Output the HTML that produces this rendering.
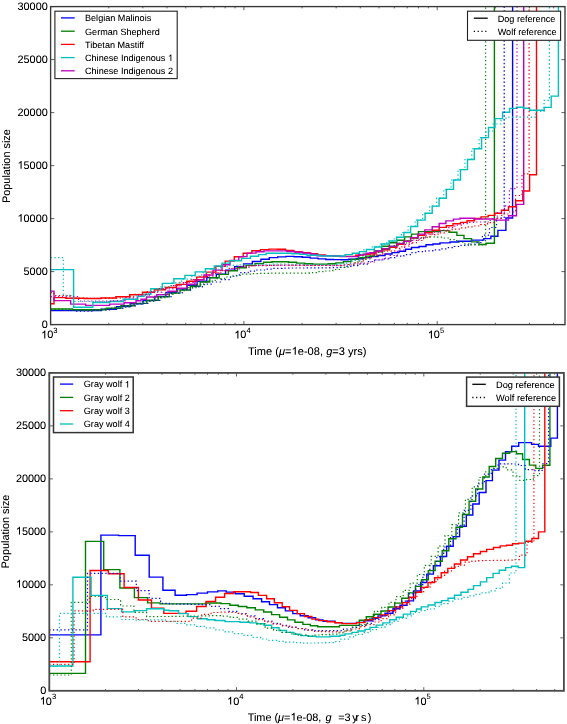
<!DOCTYPE html><html><head><meta charset='utf-8'><style>html,body{margin:0;padding:0;background:#fff;width:567px;height:724px;overflow:hidden}svg{display:block;filter:blur(0.35px)}text{font-family:'Liberation Sans',sans-serif;fill:#000;text-rendering:geometricPrecision}</style></head><body>
<svg width='567' height='724' viewBox='0 0 567 724'>
<clipPath id='ct'><rect x='50.6' y='6.6' width='514.4' height='318.0'/></clipPath>
<clipPath id='cb'><rect x='49.3' y='372.9' width='514.6' height='317.9'/></clipPath>
<g clip-path='url(#ct)' fill='none' stroke-width='1.3'><path d='M50.6,310.6L66.6,310.6L66.6,310.6L84.9,310.6L84.9,310.5L101.4,310.5L101.4,309.2L116.5,309.2L116.5,306.6L130.3,306.6L130.3,303.8L143.0,303.8L143.0,300.6L154.8,300.6L154.8,296.4L165.9,296.4L165.9,292.4L176.7,292.4L176.7,288.8L187.1,288.8L187.1,285.2L197.1,285.2L197.1,281.2L206.8,281.2L206.8,277.6L216.3,277.6L216.3,274.3L225.6,274.3L225.6,270.3L234.7,270.3L234.7,266.6L243.6,266.6L243.6,263.9L252.3,263.9L252.3,261.5L260.9,261.5L260.9,259.3L269.3,259.3L269.3,257.6L277.7,257.6L277.7,256.9L286.0,256.9L286.0,256.4L294.1,256.4L294.1,256.8L302.2,256.8L302.2,257.2L310.2,257.2L310.2,258.1L318.1,258.1L318.1,258.9L325.8,258.9L325.8,259.5L333.5,259.5L333.5,259.6L341.1,259.6L341.1,259.7L348.6,259.7L348.6,259.3L356.1,259.3L356.1,258.8L363.4,258.8L363.4,257.6L370.0,257.6L370.0,256.5L378.0,256.5L378.0,255.5L385.0,255.5L385.0,254.0L392.0,254.0L392.0,252.6L399.0,252.6L399.0,251.2L405.5,251.2L405.5,249.2L411.5,249.2L411.5,247.5L419.0,247.5L419.0,246.5L426.0,246.5L426.0,244.8L433.0,244.8L433.0,244.0L440.0,244.0L440.0,242.9L450.0,242.9L450.0,242.0L458.0,242.0L458.0,241.2L471.5,241.2L471.5,240.1L483.8,240.1L483.8,238.6L490.9,238.6L490.9,236.2L497.9,236.2L497.9,230.4L505.9,230.4L505.9,218.0L512.6,218.0L512.6,-5.0' stroke='#0000ff' stroke-width='1.4'/>
<path d='M50.6,309.0L72.5,309.0L72.5,309.8L90.3,309.8L90.3,309.8L106.3,309.8L106.3,308.3L120.9,308.3L120.9,305.7L134.3,305.7L134.3,303.4L146.8,303.4L146.8,300.2L158.3,300.2L158.3,296.7L169.3,296.7L169.3,293.1L180.0,293.1L180.0,290.0L190.3,290.0L190.3,286.3L200.2,286.3L200.2,282.0L209.8,282.0L209.8,277.8L219.2,277.8L219.2,274.4L228.4,274.4L228.4,270.7L237.4,270.7L237.4,267.7L246.3,267.7L246.3,265.4L255.0,265.4L255.0,263.6L263.5,263.6L263.5,262.3L271.9,262.3L271.9,261.7L280.3,261.7L280.3,261.7L288.5,261.7L288.5,262.2L296.7,262.2L296.7,263.1L304.7,263.1L304.7,263.7L312.6,263.7L312.6,264.1L320.5,264.1L320.5,264.1L328.2,264.1L328.2,263.8L335.9,263.8L335.9,262.9L343.5,262.9L343.5,261.6L351.0,261.6L351.0,259.4L358.3,259.4L358.3,257.8L365.7,257.8L365.7,256.1L374.2,256.1L374.2,250.9L381.6,250.9L381.6,246.3L389.4,246.3L389.4,242.8L396.8,242.8L396.8,240.3L404.6,240.3L404.6,236.9L411.5,236.9L411.5,234.1L418.5,234.1L418.5,231.6L440.0,231.6L440.0,230.6L449.0,230.6L449.0,232.3L456.9,232.3L456.9,235.4L464.0,235.4L464.0,238.6L471.6,238.6L471.6,241.9L479.0,241.9L479.0,244.5L486.0,244.5L486.0,243.2L494.4,243.2L494.4,-5.0' stroke='#008000' stroke-width='1.4'/>
<path d='M50.6,303.7L54.0,303.7L54.0,297.6L65.8,297.6L65.8,298.3L84.2,298.3L84.2,298.5L100.8,298.5L100.8,298.0L115.9,298.0L115.9,296.8L129.7,296.8L129.7,294.7L142.5,294.7L142.5,292.3L154.4,292.3L154.4,289.8L165.5,289.8L165.5,287.5L176.3,287.5L176.3,284.4L186.7,284.4L186.7,281.3L196.7,281.3L196.7,277.1L206.4,277.1L206.4,272.1L215.9,272.1L215.9,266.4L225.2,266.4L225.2,261.1L234.3,261.1L234.3,256.8L243.2,256.8L243.2,253.3L251.9,253.3L251.9,250.8L260.5,250.8L260.5,249.6L269.0,249.6L269.0,249.1L277.4,249.1L277.4,249.3L285.6,249.3L285.6,250.4L293.8,250.4L293.8,251.6L301.9,251.6L301.9,252.7L309.9,252.7L309.9,253.8L317.7,253.8L317.7,254.9L325.5,254.9L325.5,255.6L333.2,255.6L333.2,256.3L340.8,256.3L340.8,256.4L348.3,256.4L348.3,256.4L355.8,256.4L355.8,255.2L363.1,255.2L363.1,254.3L370.0,254.3L370.0,253.7L376.0,253.7L376.0,251.9L382.7,251.9L382.7,249.8L389.4,249.8L389.4,247.3L396.8,247.3L396.8,244.2L404.0,244.2L404.0,241.2L410.6,241.2L410.6,238.0L418.0,238.0L418.0,235.2L424.8,235.2L424.8,232.7L432.2,232.7L432.2,230.2L439.2,230.2L439.2,227.4L446.3,227.4L446.3,225.7L453.0,225.7L453.0,223.8L460.5,223.8L460.5,222.4L467.0,222.4L467.0,220.7L474.5,220.7L474.5,218.5L481.0,218.5L481.0,216.9L488.2,216.9L488.2,215.4L494.8,215.4L494.8,213.3L501.5,213.3L501.5,210.3L508.5,210.3L508.5,206.7L515.6,206.7L515.6,200.8L522.8,200.8L522.8,191.0L529.6,191.0L529.6,174.8L536.5,174.8L536.5,-5.0' stroke='#ff0000' stroke-width='1.4'/>
<path d='M50.6,291.1L54.0,291.1L54.0,300.6L70.7,300.6L70.7,304.1L85.7,304.1L85.7,305.4L109.6,305.4L109.6,304.1L124.1,304.1L124.1,302.8L136.0,302.8L136.0,300.8L141.0,300.8L141.0,299.2L146.5,299.2L146.5,297.0L156.8,297.0L156.8,294.6L167.9,294.6L167.9,291.3L177.6,291.3L177.6,288.2L187.0,288.2L187.0,284.3L195.0,284.3L195.0,279.8L204.0,279.8L204.0,275.0L213.0,275.0L213.0,270.1L222.0,270.1L222.0,264.8L230.0,264.8L230.0,260.4L238.8,260.4L238.8,256.6L247.0,256.6L247.0,253.1L256.0,253.1L256.0,251.8L264.0,251.8L264.0,250.9L287.0,250.9L287.0,251.5L295.0,251.5L295.0,252.3L303.0,252.3L303.0,253.2L311.0,253.2L311.0,254.3L317.0,254.3L317.0,255.7L340.0,255.7L340.0,256.6L358.5,256.6L358.5,254.8L366.0,254.8L366.0,253.2L370.0,253.2L370.0,252.7L376.0,252.7L376.0,251.0L382.7,251.0L382.7,248.8L389.4,248.8L389.4,246.3L396.8,246.3L396.8,243.5L404.0,243.5L404.0,241.2L410.6,241.2L410.6,237.6L418.0,237.6L418.0,234.1L424.8,234.1L424.8,229.9L432.2,229.9L432.2,226.7L439.2,226.7L439.2,223.5L445.9,223.5L445.9,220.9L453.4,220.9L453.4,219.1L460.0,219.1L460.0,218.3L474.0,218.3L474.0,219.0L494.4,219.0L494.4,220.1L508.5,220.1L508.5,215.7L516.5,215.7L516.5,204.4L523.7,204.4L523.7,-5.0' stroke='#bf00bf' stroke-width='1.4'/>
<path d='M50.6,269.6L73.6,269.6L73.6,307.2L92.8,307.2L92.8,302.5L109.6,302.5L109.6,301.5L123.2,301.5L123.2,299.3L137.8,299.3L137.8,296.4L144.0,296.4L144.0,294.2L150.8,294.2L150.8,288.7L162.3,288.7L162.3,283.4L173.9,283.4L173.9,278.7L184.9,278.7L184.9,275.4L195.2,275.4L195.2,271.9L205.4,271.9L205.4,268.8L214.3,268.8L214.3,266.0L222.0,266.0L222.0,263.1L229.5,263.1L229.5,260.8L241.5,260.8L241.5,258.4L250.3,258.4L250.3,256.2L258.5,256.2L258.5,254.6L266.0,254.6L266.0,253.3L292.0,253.3L292.0,253.8L300.0,253.8L300.0,254.4L307.0,254.4L307.0,255.3L320.0,255.3L320.0,256.0L345.1,256.0L345.1,254.6L352.3,254.6L352.3,253.3L359.4,253.3L359.4,251.6L366.4,251.6L366.4,249.5L374.4,249.5L374.4,247.0L381.6,247.0L381.6,244.0L389.3,244.0L389.3,241.0L396.7,241.0L396.7,237.3L403.9,237.3L403.9,232.5L410.6,232.5L410.6,226.5L417.6,226.5L417.6,220.1L425.1,220.1L425.1,213.3L432.2,213.3L432.2,206.1L439.1,206.1L439.1,198.2L446.3,198.2L446.3,189.4L453.5,189.4L453.5,180.0L460.5,180.0L460.5,169.6L467.5,169.6L467.5,159.5L474.3,159.5L474.3,148.7L481.6,148.7L481.6,137.6L488.5,137.6L488.5,127.5L495.0,127.5L495.0,118.6L502.6,118.6L502.6,112.2L509.6,112.2L509.6,108.4L516.5,108.4L516.5,107.2L523.4,107.2L523.4,108.2L529.6,108.2L529.6,110.2L544.2,110.2L544.2,107.4L551.2,107.4L551.2,96.1L558.4,96.1L558.4,-5.0' stroke='#00bfbf' stroke-width='1.4'/>
<path d='M50.6,310.4L76.5,310.4L76.5,311.1L93.9,311.1L93.9,310.0L109.5,310.0L109.5,308.3L123.9,308.3L123.9,305.9L137.1,305.9L137.1,303.3L149.4,303.3L149.4,300.3L160.7,300.3L160.7,296.6L171.7,296.6L171.7,293.0L182.2,293.0L182.2,289.8L192.4,289.8L192.4,286.8L202.3,286.8L202.3,284.2L211.8,284.2L211.8,282.0L221.2,282.0L221.2,279.6L230.4,279.6L230.4,276.0L239.4,276.0L239.4,272.7L248.2,272.7L248.2,271.2L256.8,271.2L256.8,270.0L265.3,270.0L265.3,269.1L273.8,269.1L273.8,268.3L282.1,268.3L282.1,268.1L290.3,268.1L290.3,268.0L298.4,268.0L298.4,268.0L306.4,268.0L306.4,267.9L314.3,267.9L314.3,267.9L322.2,267.9L322.2,267.8L329.9,267.8L329.9,267.7L337.5,267.7L337.5,267.3L345.1,267.3L345.1,266.4L352.6,266.4L352.6,265.7L359.9,265.7L359.9,264.1L367.3,264.1L367.3,261.5L374.7,261.5L374.7,260.0L382.0,260.0L382.0,258.8L389.3,258.8L389.3,257.7L396.6,257.7L396.6,256.2L403.8,256.2L403.8,254.6L411.1,254.6L411.1,252.6L418.3,252.6L418.3,251.7L425.5,251.7L425.5,250.8L432.7,250.8L432.7,249.8L439.8,249.8L439.8,248.8L446.9,248.8L446.9,247.7L454.1,247.7L454.1,246.5L461.1,246.5L461.1,245.3L468.2,245.3L468.2,244.1L475.3,244.1L475.3,242.6L482.4,242.6L482.4,235.2L489.5,235.2L489.5,227.5L496.5,227.5L496.5,218.1L504.2,218.1L504.2,-5.0' stroke='#0000ff' stroke-width='1.2' stroke-dasharray='1.3,2.45'/>
<path d='M50.6,309.4L64.6,309.4L64.6,310.0L83.1,310.0L83.1,310.4L99.8,310.4L99.8,308.8L115.0,308.8L115.0,307.1L128.9,307.1L128.9,304.2L141.7,304.2L141.7,301.5L153.6,301.5L153.6,297.9L164.8,297.9L164.8,294.3L175.6,294.3L175.6,290.7L186.0,290.7L186.0,287.7L196.1,287.7L196.1,284.6L205.9,284.6L205.9,281.1L215.3,281.1L215.3,278.6L224.6,278.6L224.6,277.0L233.7,277.0L233.7,275.4L242.7,275.4L242.7,274.2L251.4,274.2L251.4,273.6L260.0,273.6L260.0,273.4L268.5,273.4L268.5,273.2L276.9,273.2L276.9,273.1L285.1,273.1L285.1,273.1L293.3,273.1L293.3,273.1L301.4,273.1L301.4,273.1L309.4,273.1L309.4,272.7L317.3,272.7L317.3,271.7L325.1,271.7L325.1,271.0L332.8,271.0L332.8,269.5L340.4,269.5L340.4,267.4L347.9,267.4L347.9,264.9L355.3,264.9L355.3,261.9L362.7,261.9L362.7,259.0L370.0,259.0L370.0,255.8L377.4,255.8L377.4,252.5L384.7,252.5L384.7,248.8L392.0,248.8L392.0,245.7L399.3,245.7L399.3,243.0L406.5,243.0L406.5,240.5L413.8,240.5L413.8,238.5L421.0,238.5L421.0,237.3L428.2,237.3L428.2,236.9L435.3,236.9L435.3,237.2L442.5,237.2L442.5,238.0L449.6,238.0L449.6,239.6L456.7,239.6L456.7,242.1L463.8,242.1L463.8,243.8L470.9,243.8L470.9,244.9L478.0,244.9L478.0,245.0L485.6,245.0L485.6,-5.0' stroke='#008000' stroke-width='1.2' stroke-dasharray='1.3,2.45'/>
<path d='M50.6,292.5L54.0,292.5L54.0,295.5L71.6,295.5L71.6,298.0L89.5,298.0L89.5,298.3L105.5,298.3L105.5,298.2L120.2,298.2L120.2,296.8L133.7,296.8L133.7,294.3L146.2,294.3L146.2,291.5L157.8,291.5L157.8,288.5L168.8,288.5L168.8,285.6L179.5,285.6L179.5,282.6L189.8,282.6L189.8,279.6L199.7,279.6L199.7,276.5L209.3,276.5L209.3,273.4L218.8,273.4L218.8,270.7L228.0,270.7L228.0,268.4L237.0,268.4L237.0,266.4L245.9,266.4L245.9,265.8L254.6,265.8L254.6,265.4L263.1,265.4L263.1,265.3L271.5,265.3L271.5,265.1L279.9,265.1L279.9,265.0L288.1,265.0L288.1,265.1L296.3,265.1L296.3,265.2L304.3,265.2L304.3,265.3L312.3,265.3L312.3,265.4L320.1,265.4L320.1,265.4L327.9,265.4L327.9,265.4L335.5,265.4L335.5,265.4L343.1,265.4L343.1,264.5L350.6,264.5L350.6,263.0L358.0,263.0L358.0,260.8L365.4,260.8L365.4,257.6L372.7,257.6L372.7,255.2L380.1,255.2L380.1,253.9L387.4,253.9L387.4,251.1L394.7,251.1L394.7,248.3L401.9,248.3L401.9,246.0L409.2,246.0L409.2,242.7L416.4,242.7L416.4,240.5L423.6,240.5L423.6,236.9L430.8,236.9L430.8,234.6L437.9,234.6L437.9,232.9L445.1,232.9L445.1,231.2L452.2,231.2L452.2,229.2L459.3,229.2L459.3,227.9L466.4,227.9L466.4,226.9L473.5,226.9L473.5,226.0L480.5,226.0L480.5,224.7L487.6,224.7L487.6,222.7L494.7,222.7L494.7,218.3L501.7,218.3L501.7,214.0L508.8,214.0L508.8,212.0L515.6,212.0L515.6,195.5L522.0,195.5L522.0,173.9L529.1,173.9L529.1,-5.0' stroke='#ff0000' stroke-width='1.2' stroke-dasharray='1.3,2.45'/>
<path d='M50.6,257.6L63.4,257.6L63.4,295.3L73.4,295.3L73.4,301.5L92.8,301.5L92.8,301.7L108.6,301.7L108.6,301.1L123.0,301.1L123.0,299.1L136.3,299.1L136.3,296.0L148.6,296.0L148.6,291.3L160.0,291.3L160.0,286.8L171.0,286.8L171.0,282.8L181.6,282.8L181.6,279.2L191.8,279.2L191.8,276.0L201.7,276.0L201.7,272.7L211.2,272.7L211.2,269.4L220.6,269.4L220.6,266.7L229.8,266.7L229.8,265.3L238.8,265.3L238.8,264.8L247.6,264.8L247.6,264.5L256.3,264.5L256.3,264.4L264.8,264.4L264.8,264.3L273.2,264.3L273.2,264.2L281.5,264.2L281.5,264.2L289.8,264.2L289.8,264.3L297.9,264.3L297.9,264.4L305.9,264.4L305.9,264.4L313.8,264.4L313.8,264.5L321.7,264.5L321.7,264.4L329.4,264.4L329.4,264.3L337.1,264.3L337.1,264.2L344.6,264.2L344.6,263.1L352.1,263.1L352.1,260.4L359.5,260.4L359.5,256.8L364.0,256.8' stroke='#00bfbf' stroke-width='1.2' stroke-dasharray='1.3,2.45'/>
<path d='M361.0,255.0L363.9,255.0L363.9,249.5L371.9,249.5L371.9,247.0L379.1,247.0L379.1,244.0L386.8,244.0L386.8,241.0L394.2,241.0L394.2,237.3L401.4,237.3L401.4,232.5L408.1,232.5L408.1,226.5L415.1,226.5L415.1,220.1L422.6,220.1L422.6,213.3L429.7,213.3L429.7,206.1L436.6,206.1L436.6,198.2L443.8,198.2L443.8,189.4L451.0,189.4L451.0,180.0L458.0,180.0L458.0,169.6L465.0,169.6L465.0,159.5L471.8,159.5L471.8,148.7L479.1,148.7L479.1,137.6L486.0,137.6L486.0,131.0L493.0,131.0L493.0,124.0L501.0,124.0L501.0,120.0L506.0,120.0L506.0,117.2L535.7,117.2L535.7,111.5L544.0,111.5L544.0,100.3L549.4,100.3L549.4,-5.0' stroke='#00bfbf' stroke-width='1.2' stroke-dasharray='1.3,2.45'/>
<path d='M50.6,296.6L78.5,296.6L78.5,301.0L95.7,301.0L95.7,301.2L111.2,301.2L111.2,300.6L125.4,300.6L125.4,297.9L138.5,297.9L138.5,295.2L150.7,295.2L150.7,292.1L161.9,292.1L161.9,288.8L172.8,288.8L172.8,285.6L183.4,285.6L183.4,282.5L193.5,282.5L193.5,279.5L203.3,279.5L203.3,276.2L212.9,276.2L212.9,272.9L222.2,272.9L222.2,270.6L231.4,270.6L231.4,268.8L240.4,268.8L240.4,267.1L249.1,267.1L249.1,265.9L257.8,265.9L257.8,265.7L266.3,265.7L266.3,265.5L274.7,265.5L274.7,265.3L283.0,265.3L283.0,265.3L291.2,265.3L291.2,265.4L299.3,265.4L299.3,265.4L307.3,265.4L307.3,265.5L315.2,265.5L315.2,265.5L323.0,265.5L323.0,265.5L330.8,265.5L330.8,265.6L338.4,265.6L338.4,265.5L345.9,265.5L345.9,265.0L353.4,265.0L353.4,264.1L360.8,264.1L360.8,263.1L368.1,263.1L368.1,262.0L375.5,262.0L375.5,259.8L382.8,259.8L382.8,258.1L390.1,258.1L390.1,255.5L397.4,255.5L397.4,250.2L404.6,250.2L404.6,244.4L411.9,244.4L411.9,240.3L419.1,240.3L419.1,237.7L426.3,237.7L426.3,234.2L433.5,234.2L433.5,232.2L440.6,232.2L440.6,230.2L447.7,230.2L447.7,227.7L454.8,227.7L454.8,225.1L461.9,225.1L461.9,223.6L469.0,223.6L469.0,222.4L476.1,222.4L476.1,222.0L483.2,222.0L483.2,222.0L490.3,222.0L490.3,219.0L497.3,219.0L497.3,212.7L504.4,212.7L504.4,205.8L509.4,205.8L509.4,188.7L517.0,188.7L517.0,-5.0' stroke='#bf00bf' stroke-width='1.2' stroke-dasharray='1.3,2.45'/></g>
<g clip-path='url(#cb)' fill='none' stroke-width='1.3'><path d='M49.2,634.9L100.9,634.9L100.9,535.1L118.6,535.1L118.6,535.6L135.2,535.6L135.2,555.2L149.2,555.2L149.2,577.1L162.9,577.1L162.9,590.3L175.1,590.3L175.1,595.2L186.5,595.2L186.5,594.6L197.1,594.6L197.1,593.1L207.5,593.1L207.5,591.9L217.7,591.9L217.7,590.9L226.2,590.9L226.2,592.1L235.2,592.1L235.2,593.8L244.2,593.8L244.2,596.2L253.1,596.2L253.1,598.8L261.6,598.8L261.6,601.7L269.5,601.7L269.5,604.6L277.5,604.6L277.5,607.8L285.4,607.8L285.4,610.9L292.8,610.9L292.8,613.6L300.2,613.6L300.2,615.7L308.1,615.7L308.1,617.8L315.6,617.8L315.6,619.9L323.0,619.9L323.0,621.2L335.0,621.2L335.0,622.6L342.0,622.6L342.0,623.4L356.5,623.4L356.5,622.4L364.0,622.4L364.0,620.8L372.0,620.8L372.0,618.2L378.0,618.2L378.0,615.9L385.0,615.9L385.0,613.2L393.0,613.2L393.0,608.8L400.0,608.8L400.0,605.3L407.0,605.3L407.0,600.9L413.5,600.9L413.5,591.0L420.6,591.0L420.6,582.5L426.8,582.5L426.8,574.1L433.4,574.1L433.4,565.7L440.4,565.7L440.4,556.5L446.6,556.5L446.6,546.3L453.2,546.3L453.2,536.6L459.6,536.6L459.6,526.4L466.3,526.4L466.3,515.0L472.8,515.0L472.8,504.0L479.2,504.0L479.2,492.5L486.0,492.5L486.0,480.6L492.4,480.6L492.4,470.1L499.0,470.1L499.0,460.1L505.5,460.1L505.5,451.8L511.7,451.8L511.7,446.3L518.7,446.3L518.7,442.6L531.6,442.6L531.6,444.4L538.5,444.4L538.5,446.2L550.8,446.2L550.8,438.1L557.4,438.1L557.4,360.0' stroke='#0000ff' stroke-width='1.4'/>
<path d='M49.2,673.4L85.5,673.4L85.5,541.4L103.7,541.4L103.7,569.6L119.9,569.6L119.9,588.0L134.4,588.0L134.4,597.6L147.6,597.6L147.6,602.9L160.0,602.9L160.0,603.9L205.6,603.9L205.6,603.0L220.9,603.0L220.9,603.6L229.9,603.6L229.9,605.2L238.3,605.2L238.3,606.5L246.8,606.5L246.8,607.8L255.3,607.8L255.3,609.9L263.7,609.9L263.7,612.0L271.6,612.0L271.6,614.6L279.6,614.6L279.6,617.3L287.5,617.3L287.5,619.9L294.9,619.9L294.9,622.2L302.9,622.2L302.9,624.4L310.3,624.4L310.3,625.7L317.7,625.7L317.7,626.8L339.5,626.8L339.5,625.4L359.3,625.4L359.3,620.3L366.3,620.3L366.3,616.8L373.4,616.8L373.4,614.2L381.0,614.2L381.0,611.0L388.1,611.0L388.1,607.0L394.7,607.0L394.7,603.1L401.7,603.1L401.7,598.2L408.4,598.2L408.4,592.9L415.4,592.9L415.4,586.4L421.5,586.4L421.5,579.8L428.3,579.8L428.3,570.6L435.1,570.6L435.1,561.3L442.2,561.3L442.2,550.7L448.8,550.7L448.8,538.8L456.0,538.8L456.0,527.2L462.5,527.2L462.5,514.5L469.1,514.5L469.1,501.3L475.7,501.3L475.7,489.0L482.8,489.0L482.8,477.0L489.2,477.0L489.2,466.5L495.7,466.5L495.7,458.5L502.5,458.5L502.5,453.2L509.6,453.2L509.6,451.6L516.5,451.6L516.5,453.8L522.6,453.8L522.6,459.5L529.4,459.5L529.4,465.1L535.8,465.1L535.8,468.4L542.6,468.4L542.6,465.3L549.9,465.3L549.9,360.0' stroke='#008000' stroke-width='1.4'/>
<path d='M49.2,661.7L90.1,661.7L90.1,570.5L108.3,570.5L108.3,573.8L124.1,573.8L124.1,587.5L138.4,587.5L138.4,600.0L151.5,600.0L151.5,608.1L163.8,608.1L163.8,613.4L186.0,613.4L186.0,611.3L196.6,611.3L196.6,606.5L206.1,606.5L206.1,601.5L215.6,601.5L215.6,597.2L224.6,597.2L224.6,593.5L233.6,593.5L233.6,591.7L250.5,591.7L250.5,592.5L258.4,592.5L258.4,595.4L266.6,595.4L266.6,598.8L274.3,598.8L274.3,602.8L282.2,602.8L282.2,606.7L289.6,606.7L289.6,610.4L297.2,610.4L297.2,613.6L304.4,613.6L304.4,616.5L311.9,616.5L311.9,619.1L318.7,619.1L318.7,620.6L327.0,620.6L327.0,621.8L335.0,621.8L335.0,622.8L342.0,622.8L342.0,623.6L356.5,623.6L356.5,622.6L365.0,622.6L365.0,619.8L373.4,619.8L373.4,617.6L381.0,617.6L381.0,615.0L388.0,615.0L388.0,610.8L395.5,610.8L395.5,607.0L402.5,607.0L402.5,602.6L409.0,602.6L409.0,597.3L415.5,597.3L415.5,592.3L421.6,592.3L421.6,587.4L428.0,587.4L428.0,582.5L434.6,582.5L434.6,577.7L441.2,577.7L441.2,572.7L447.8,572.7L447.8,568.4L454.4,568.4L454.4,564.0L460.6,564.0L460.6,560.0L467.5,560.0L467.5,556.7L473.5,556.7L473.5,553.8L480.4,553.8L480.4,551.5L486.7,551.5L486.7,549.4L493.5,549.4L493.5,547.5L500.2,547.5L500.2,545.9L506.5,545.9L506.5,545.2L512.5,545.2L512.5,543.8L518.7,543.8L518.7,543.1L525.3,543.1L525.3,541.2L531.9,541.2L531.9,538.5L538.5,538.5L538.5,531.9L544.8,531.9L544.8,360.0' stroke='#ff0000' stroke-width='1.4'/>
<path d='M49.2,666.0L72.9,666.0L72.9,577.2L91.1,577.2L91.1,595.4L107.3,595.4L107.3,608.6L121.7,608.6L121.7,611.9L134.9,611.9L134.9,610.6L146.6,610.6L146.6,608.7L163.8,608.7L163.8,610.2L169.0,610.2L169.0,610.7L178.6,610.7L178.6,613.6L188.1,613.6L188.1,616.6L197.6,616.6L197.6,618.7L207.1,618.7L207.1,619.8L215.0,619.8L215.0,620.5L225.0,620.5L225.0,621.6L240.0,621.6L240.0,622.3L250.0,622.3L250.0,622.9L257.0,622.9L257.0,623.8L264.0,623.8L264.0,625.3L271.6,625.3L271.6,627.8L279.0,627.8L279.0,630.5L286.5,630.5L286.5,632.4L293.9,632.4L293.9,634.2L300.7,634.2L300.7,635.6L308.1,635.6L308.1,636.3L316.1,636.3L316.1,636.9L330.0,636.9L330.0,636.3L340.0,636.3L340.0,635.3L345.0,635.3L345.0,633.9L352.0,633.9L352.0,632.4L358.0,632.4L358.0,631.0L365.0,631.0L365.0,629.4L370.0,629.4L370.0,627.4L376.2,627.4L376.2,625.1L382.8,625.1L382.8,622.9L389.8,622.9L389.8,619.8L396.2,619.8L396.2,617.2L403.3,617.2L403.3,614.1L410.7,614.1L410.7,611.4L416.5,611.4L416.5,609.0L421.3,609.0L421.3,606.9L428.1,606.9L428.1,605.0L435.0,605.0L435.0,602.5L441.5,602.5L441.5,600.6L448.0,600.6L448.0,598.2L454.5,598.2L454.5,595.3L461.0,595.3L461.0,592.3L468.0,592.3L468.0,589.4L473.5,589.4L473.5,585.6L480.4,585.6L480.4,581.9L486.7,581.9L486.7,577.6L493.1,577.6L493.1,573.4L499.2,573.4L499.2,570.2L505.6,570.2L505.6,567.6L511.5,567.6L511.5,566.3L518.2,566.3L518.2,567.6L524.7,567.6L524.7,360.0' stroke='#00bfbf' stroke-width='1.4'/>
<path d='M49.2,629.8L65.2,629.8L65.2,629.8L83.7,629.8L83.7,629.8L87.5,629.8L87.5,573.4L100.5,573.4L100.5,573.4L115.6,573.4L115.6,573.4L120.2,573.4L120.2,581.1L131.0,581.1L131.0,581.1L136.3,581.1L136.3,590.7L146.1,590.7L146.1,590.7L149.2,590.7L149.2,598.4L158.3,598.4L158.3,598.4L160.6,598.4L160.6,603.3L169.4,603.3L169.4,604.0L180.0,604.0L180.0,604.2L190.3,604.2L190.3,604.4L200.2,604.4L200.2,604.6L209.8,604.6L209.8,606.4L219.2,606.4L219.2,608.7L228.4,608.7L228.4,611.4L237.5,611.4L237.5,613.5L246.3,613.5L246.3,615.8L255.0,615.8L255.0,618.7L263.5,618.7L263.5,621.0L272.0,621.0L272.0,623.3L280.3,623.3L280.3,625.4L288.5,625.4L288.5,627.2L296.7,627.2L296.7,628.5L304.7,628.5L304.7,629.8L312.6,629.8L312.6,630.5L320.5,630.5L320.5,630.7L328.3,630.7L328.3,630.7L335.9,630.7L335.9,630.7L343.5,630.7L343.5,629.0L351.0,629.0L351.0,627.3L358.4,627.3L358.4,625.5L365.7,625.5L365.7,623.3L373.0,623.3L373.0,619.7L380.3,619.7L380.3,615.7L387.5,615.7L387.5,611.4L394.7,611.4L394.7,607.1L401.8,607.1L401.8,601.2L408.9,601.2L408.9,593.9L415.9,593.9L415.9,584.7L422.9,584.7L422.9,575.0L429.9,575.0L429.9,565.6L436.8,565.6L436.8,556.6L443.7,556.6L443.7,547.0L450.5,547.0L450.5,536.7L457.3,536.7L457.3,525.4L464.1,525.4L464.1,510.4L470.9,510.4L470.9,495.8L477.7,495.8L477.7,483.2L484.5,483.2L484.5,474.1L491.3,474.1L491.3,468.8L498.1,468.8L498.1,463.9L504.9,463.9L504.9,463.8L511.7,463.8L511.7,464.0L518.5,464.0L518.5,465.5L525.3,465.5L525.3,469.7L532.1,469.7L532.1,470.6L538.9,470.6L538.9,470.3L543.0,470.3L543.0,463.5L548.5,463.5L548.5,360.0' stroke='#0000ff' stroke-width='1.2' stroke-dasharray='1.3,2.45'/>
<path d='M49.2,675.0L71.3,675.0L71.3,602.4L89.3,602.4L89.3,596.5L105.5,596.5L105.5,599.5L120.6,599.5L120.6,606.0L133.9,606.0L133.9,612.4L146.6,612.4L146.6,616.6L160.5,616.6L160.5,616.5L171.4,616.5L171.4,616.3L182.0,616.3L182.0,616.2L192.2,616.2L192.2,616.0L202.1,616.0L202.1,615.8L211.6,615.8L211.6,615.6L221.0,615.6L221.0,616.2L230.2,616.2L230.2,617.4L239.2,617.4L239.2,619.2L248.0,619.2L248.0,621.2L256.6,621.2L256.6,623.8L265.1,623.8L265.1,628.2L273.6,628.2L273.6,630.4L281.9,630.4L281.9,632.3L290.1,632.3L290.1,633.9L298.2,633.9L298.2,635.2L306.2,635.2L306.2,636.0L314.2,636.0L314.2,635.0L322.0,635.0L322.0,634.7L329.7,634.7L329.7,634.1L337.4,634.1L337.4,632.8L344.9,632.8L344.9,630.1L352.4,630.1L352.4,627.0L359.8,627.0L359.8,624.7L367.1,624.7L367.1,618.6L374.4,618.6L374.4,611.3L381.7,611.3L381.7,607.3L388.9,607.3L388.9,602.3L396.0,602.3L396.0,596.6L403.2,596.6L403.2,590.3L410.2,590.3L410.2,583.2L417.3,583.2L417.3,574.5L424.3,574.5L424.3,565.4L431.2,565.4L431.2,556.4L438.1,556.4L438.1,546.1L445.0,546.1L445.0,535.6L451.8,535.6L451.8,524.7L458.6,524.7L458.6,512.9L465.4,512.9L465.4,499.3L472.2,499.3L472.2,486.8L479.0,486.8L479.0,477.5L485.8,477.5L485.8,471.9L492.6,471.9L492.6,468.4L499.4,468.4L499.4,466.9L506.2,466.9L506.2,469.9L513.0,469.9L513.0,475.9L519.8,475.9L519.8,480.3L526.6,480.3L526.6,479.5L533.4,479.5L533.4,475.6L539.5,475.6L539.5,360.0' stroke='#008000' stroke-width='1.2' stroke-dasharray='1.3,2.45'/>
<path d='M49.2,664.4L69.2,664.4L69.2,664.4L74.1,664.4L74.1,610.8L93.2,610.8L93.2,609.3L108.9,609.3L108.9,609.3L122.8,609.3L122.8,616.9L136.1,616.9L136.1,619.5L148.4,619.5L148.4,621.3L159.8,621.3L159.8,621.3L170.8,621.3L170.8,621.3L181.4,621.3L181.4,621.3L191.6,621.3L191.6,618.2L201.5,618.2L201.5,614.4L211.1,614.4L211.1,612.5L220.5,612.5L220.5,612.2L229.6,612.2L229.6,612.5L238.7,612.5L238.7,614.1L247.5,614.1L247.5,616.9L256.1,616.9L256.1,619.6L264.7,619.6L264.7,621.9L273.1,621.9L273.1,624.1L281.4,624.1L281.4,625.9L289.6,625.9L289.6,627.4L297.8,627.4L297.8,628.7L305.8,628.7L305.8,630.3L313.7,630.3L313.7,631.3L321.5,631.3L321.5,631.7L329.3,631.7L329.3,631.9L336.9,631.9L336.9,632.0L344.5,632.0L344.5,630.8L352.0,630.8L352.0,629.0L359.3,629.0L359.3,626.6L366.7,626.6L366.7,624.6L374.0,624.6L374.0,622.0L381.2,622.0L381.2,618.7L388.5,618.7L388.5,614.8L395.6,614.8L395.6,609.2L402.8,609.2L402.8,604.4L409.8,604.4L409.8,598.6L416.9,598.6L416.9,591.7L423.9,591.7L423.9,586.9L430.8,586.9L430.8,581.6L437.7,581.6L437.7,576.1L444.6,576.1L444.6,571.0L451.5,571.0L451.5,567.1L458.3,567.1L458.3,565.1L465.1,565.1L465.1,562.2L471.9,562.2L471.9,561.2L478.7,561.2L478.7,560.7L485.5,560.7L485.5,560.5L492.3,560.5L492.3,560.4L499.1,560.4L499.1,560.3L505.9,560.3L505.9,560.2L512.7,560.2L512.7,559.6L519.5,559.6L519.5,555.1L527.0,555.1L527.0,542.5L533.9,542.5L533.9,360.0' stroke='#ff0000' stroke-width='1.2' stroke-dasharray='1.3,2.45'/>
<path d='M49.2,666.5L59.5,666.5L59.5,613.4L70.9,613.4L70.9,613.4L88.8,613.4L88.8,613.4L106.4,613.4L106.4,616.8L115.2,616.8L115.2,616.8L121.2,616.8L121.2,619.5L129.2,619.5L129.2,619.5L135.0,619.5L135.0,620.2L142.4,620.2L142.4,619.8L154.3,619.8L154.3,619.9L165.4,619.9L165.4,621.4L176.2,621.4L176.2,623.4L186.6,623.4L186.6,624.9L196.7,624.9L196.7,626.3L206.4,626.3L206.4,627.9L215.9,627.9L215.9,630.0L225.2,630.0L225.2,631.8L234.3,631.8L234.3,633.6L243.2,633.6L243.2,635.4L251.9,635.4L251.9,637.3L260.5,637.3L260.5,639.0L269.0,639.0L269.0,640.4L277.3,640.4L277.3,641.3L285.6,641.3L285.6,642.1L293.8,642.1L293.8,642.7L301.8,642.7L301.8,643.2L309.8,643.2L309.8,643.0L317.7,643.0L317.7,642.9L325.5,642.9L325.5,642.7L333.2,642.7L333.2,641.6L340.8,641.6L340.8,639.2L348.3,639.2L348.3,636.9L355.7,636.9L355.7,634.4L363.1,634.4L363.1,632.6L370.4,632.6L370.4,629.7L377.7,629.7L377.7,627.4L384.9,627.4L384.9,624.7L392.1,624.7L392.1,621.3L399.3,621.3L399.3,618.2L406.4,618.2L406.4,615.9L413.4,615.9L413.4,612.5L420.4,612.5L420.4,610.7L427.4,610.7L427.4,609.0L434.4,609.0L434.4,606.3L441.2,606.3L441.2,603.6L448.1,603.6L448.1,601.1L454.9,601.1L454.9,599.1L461.7,599.1L461.7,597.4L468.5,597.4L468.5,595.8L475.3,595.8L475.3,594.3L482.1,594.3L482.1,592.8L488.9,592.8L488.9,590.8L495.7,590.8L495.7,588.4L502.5,588.4L502.5,583.0L509.3,583.0L509.3,573.0L516.0,573.0L516.0,360.0' stroke='#00bfbf' stroke-width='1.2' stroke-dasharray='1.3,2.45'/></g>
<path d='M50.60,324.60v-3.6M50.60,6.60v3.6M108.79,324.60v-1.8M108.79,6.60v1.8M142.83,324.60v-1.8M142.83,6.60v1.8M166.98,324.60v-1.8M166.98,6.60v1.8M185.71,324.60v-1.8M185.71,6.60v1.8M201.02,324.60v-1.8M201.02,6.60v1.8M213.96,324.60v-1.8M213.96,6.60v1.8M225.17,324.60v-1.8M225.17,6.60v1.8M235.06,324.60v-1.8M235.06,6.60v1.8M243.90,324.60v-3.6M243.90,6.60v3.6M302.09,324.60v-1.8M302.09,6.60v1.8M336.13,324.60v-1.8M336.13,6.60v1.8M360.28,324.60v-1.8M360.28,6.60v1.8M379.01,324.60v-1.8M379.01,6.60v1.8M394.32,324.60v-1.8M394.32,6.60v1.8M407.26,324.60v-1.8M407.26,6.60v1.8M418.47,324.60v-1.8M418.47,6.60v1.8M428.36,324.60v-1.8M428.36,6.60v1.8M437.20,324.60v-3.6M437.20,6.60v3.6M495.39,324.60v-1.8M495.39,6.60v1.8M529.43,324.60v-1.8M529.43,6.60v1.8M553.58,324.60v-1.8M553.58,6.60v1.8M50.60,324.60h3.6M565.00,324.60h-3.6M50.60,271.60h3.6M565.00,271.60h-3.6M50.60,218.60h3.6M565.00,218.60h-3.6M50.60,165.60h3.6M565.00,165.60h-3.6M50.60,112.60h3.6M565.00,112.60h-3.6M50.60,59.60h3.6M565.00,59.60h-3.6M50.60,6.60h3.6M565.00,6.60h-3.6' stroke='#444' stroke-width='0.85' fill='none'/>












<rect x='50.6' y='6.6' width='514.4' height='318.0' fill='none' stroke='#383838' stroke-width='1.35'/>
<path d='M49.20,690.80v-3.6M49.20,372.90v3.6M105.58,690.80v-1.8M105.58,372.90v1.8M138.56,690.80v-1.8M138.56,372.90v1.8M161.97,690.80v-1.8M161.97,372.90v1.8M180.12,690.80v-1.8M180.12,372.90v1.8M194.95,690.80v-1.8M194.95,372.90v1.8M207.49,690.80v-1.8M207.49,372.90v1.8M218.35,690.80v-1.8M218.35,372.90v1.8M227.93,690.80v-1.8M227.93,372.90v1.8M236.50,690.80v-3.6M236.50,372.90v3.6M292.88,690.80v-1.8M292.88,372.90v1.8M325.86,690.80v-1.8M325.86,372.90v1.8M349.27,690.80v-1.8M349.27,372.90v1.8M367.42,690.80v-1.8M367.42,372.90v1.8M382.25,690.80v-1.8M382.25,372.90v1.8M394.79,690.80v-1.8M394.79,372.90v1.8M405.65,690.80v-1.8M405.65,372.90v1.8M415.23,690.80v-1.8M415.23,372.90v1.8M423.80,690.80v-3.6M423.80,372.90v3.6M480.18,690.80v-1.8M480.18,372.90v1.8M513.16,690.80v-1.8M513.16,372.90v1.8M536.57,690.80v-1.8M536.57,372.90v1.8M554.72,690.80v-1.8M554.72,372.90v1.8M49.30,690.80h3.6M563.90,690.80h-3.6M49.30,637.82h3.6M563.90,637.82h-3.6M49.30,584.83h3.6M563.90,584.83h-3.6M49.30,531.85h3.6M563.90,531.85h-3.6M49.30,478.87h3.6M563.90,478.87h-3.6M49.30,425.88h3.6M563.90,425.88h-3.6M49.30,372.90h3.6M563.90,372.90h-3.6' stroke='#444' stroke-width='0.85' fill='none'/>












<rect x='49.3' y='372.9' width='514.6' height='317.9' fill='none' stroke='#4a4a4a' stroke-width='1.8'/>
<rect x='54.9' y='11.2' width='122.3' height='67.4' fill='#fff' stroke='#222' stroke-width='1.1'/>
<line x1='61' x2='74.7' y1='17.9' y2='17.9' stroke='#0000ff' stroke-width='1.3'/>

<line x1='61' x2='74.7' y1='31.2' y2='31.2' stroke='#008000' stroke-width='1.3'/>

<line x1='61' x2='74.7' y1='44.4' y2='44.4' stroke='#ff0000' stroke-width='1.3'/>

<line x1='61' x2='74.7' y1='57.6' y2='57.6' stroke='#00bfbf' stroke-width='1.3'/>

<line x1='61' x2='74.7' y1='70.8' y2='70.8' stroke='#bf00bf' stroke-width='1.3'/>

<rect x='467.5' y='11.2' width='93.1' height='29.1' fill='#fff' stroke='#222' stroke-width='1.1'/>
<line x1='473.8' x2='487.7' y1='18.2' y2='18.2' stroke='#000' stroke-width='1.3'/>

<line x1='473.8' x2='487.7' y1='31.4' y2='31.4' stroke='#000' stroke-width='1.3' stroke-dasharray='1.2,2.6'/>

<rect x='53.5' y='377.0' width='79.7' height='55.6' fill='#fff' stroke='#333' stroke-width='1.5'/>
<line x1='60' x2='73.2' y1='384.1' y2='384.1' stroke='#0000ff' stroke-width='1.3'/>

<line x1='60' x2='73.2' y1='397.4' y2='397.4' stroke='#008000' stroke-width='1.3'/>

<line x1='60' x2='73.2' y1='410.7' y2='410.7' stroke='#ff0000' stroke-width='1.3'/>

<line x1='60' x2='73.2' y1='424.0' y2='424.0' stroke='#00bfbf' stroke-width='1.3'/>

<rect x='466.6' y='377.1' width='92.8' height='29.2' fill='#fff' stroke='#333' stroke-width='1.5'/>
<line x1='472.3' x2='485.8' y1='384.3' y2='384.3' stroke='#000' stroke-width='1.3'/>

<line x1='472.3' x2='485.8' y1='397.5' y2='397.5' stroke='#000' stroke-width='1.3' stroke-dasharray='1.2,2.6'/>
<defs><filter id='dk' x='0' y='0' width='1' height='1'><feComponentTransfer><feFuncA type='linear' slope='1.12'/></feComponentTransfer></filter></defs><g filter='url(#dk)'><path transform='translate(17.50,221.70) scale(0.005322,-0.005322)' d='M763 0L583 0L583 1147C540 1106 483 1064 413 1023C344 982 281 951 226 930L226 1104C326 1151 414 1208 489 1275C564 1342 617 1407 648 1466L763 1466Z' fill='#000'/><path transform='translate(17.50,168.70) scale(0.005322,-0.005322)' d='M763 0L583 0L583 1147C540 1106 483 1064 413 1023C344 982 281 951 226 930L226 1104C326 1151 414 1208 489 1275C564 1342 617 1407 648 1466L763 1466Z' fill='#000'/><path transform='translate(41.20,338.40) scale(0.005322,-0.005322)' d='M763 0L583 0L583 1147C540 1106 483 1064 413 1023C344 982 281 951 226 930L226 1104C326 1151 414 1208 489 1275C564 1342 617 1407 648 1466L763 1466Z' fill='#000'/><path transform='translate(234.30,338.40) scale(0.005322,-0.005322)' d='M763 0L583 0L583 1147C540 1106 483 1064 413 1023C344 982 281 951 226 930L226 1104C326 1151 414 1208 489 1275C564 1342 617 1407 648 1466L763 1466Z' fill='#000'/><path transform='translate(427.80,338.40) scale(0.005322,-0.005322)' d='M763 0L583 0L583 1147C540 1106 483 1064 413 1023C344 982 281 951 226 930L226 1104C326 1151 414 1208 489 1275C564 1342 617 1407 648 1466L763 1466Z' fill='#000'/><path transform='translate(291.58,354.80) scale(0.005420,-0.005420)' d='M763 0L583 0L583 1147C540 1106 483 1064 413 1023C344 982 281 951 226 930L226 1104C326 1151 414 1208 489 1275C564 1342 617 1407 648 1466L763 1466Z' fill='#000'/><path transform='translate(15.90,587.60) scale(0.005322,-0.005322)' d='M763 0L583 0L583 1147C540 1106 483 1064 413 1023C344 982 281 951 226 930L226 1104C326 1151 414 1208 489 1275C564 1342 617 1407 648 1466L763 1466Z' fill='#000'/><path transform='translate(15.90,534.60) scale(0.005322,-0.005322)' d='M763 0L583 0L583 1147C540 1106 483 1064 413 1023C344 982 281 951 226 930L226 1104C326 1151 414 1208 489 1275C564 1342 617 1407 648 1466L763 1466Z' fill='#000'/><path transform='translate(39.80,704.60) scale(0.005322,-0.005322)' d='M763 0L583 0L583 1147C540 1106 483 1064 413 1023C344 982 281 951 226 930L226 1104C326 1151 414 1208 489 1275C564 1342 617 1407 648 1466L763 1466Z' fill='#000'/><path transform='translate(227.10,704.60) scale(0.005322,-0.005322)' d='M763 0L583 0L583 1147C540 1106 483 1064 413 1023C344 982 281 951 226 930L226 1104C326 1151 414 1208 489 1275C564 1342 617 1407 648 1466L763 1466Z' fill='#000'/><path transform='translate(414.40,704.60) scale(0.005322,-0.005322)' d='M763 0L583 0L583 1147C540 1106 483 1064 413 1023C344 982 281 951 226 930L226 1104C326 1151 414 1208 489 1275C564 1342 617 1407 648 1466L763 1466Z' fill='#000'/><path transform='translate(290.44,720.50) scale(0.005322,-0.005322)' d='M763 0L583 0L583 1147C540 1106 483 1064 413 1023C344 982 281 951 226 930L226 1104C326 1151 414 1208 489 1275C564 1342 617 1407 648 1466L763 1466Z' fill='#000'/><path transform='translate(167.91,60.90) scale(0.004443,-0.004443)' d='M763 0L583 0L583 1147C540 1106 483 1064 413 1023C344 982 281 951 226 930L226 1104C326 1151 414 1208 489 1275C564 1342 617 1407 648 1466L763 1466Z' fill='#000'/><path transform='translate(124.72,387.40) scale(0.004443,-0.004443)' d='M763 0L583 0L583 1147C540 1106 483 1064 413 1023C344 982 281 951 226 930L226 1104C326 1151 414 1208 489 1275C564 1342 617 1407 648 1466L763 1466Z' fill='#000'/><text x='47.8' y='327.7' text-anchor='end' font-size='10.9'>0</text><text x='47.8' y='274.7' text-anchor='end' font-size='10.9'>5000</text><text x='47.8' y='221.7' text-anchor='end' font-size='10.9'> 0000</text><text x='47.8' y='168.7' text-anchor='end' font-size='10.9'> 5000</text><text x='47.8' y='115.7' text-anchor='end' font-size='10.9'>20000</text><text x='47.8' y='62.7' text-anchor='end' font-size='10.9'>25000</text><text x='47.8' y='9.7' text-anchor='end' font-size='10.9'>30000</text><text x='41.2' y='338.4' font-size='10.9'> 0<tspan font-size='7.6' dy='-5.6'>3</tspan></text><text x='234.3' y='338.4' font-size='10.9'> 0<tspan font-size='7.6' dy='-5.6'>4</tspan></text><text x='427.8' y='338.4' font-size='10.9'> 0<tspan font-size='7.6' dy='-5.6'>5</tspan></text><text x='248.0' y='354.8' font-size='11.1'>Time (<tspan font-style='italic'>μ</tspan>= e-08, <tspan font-style='italic'>g</tspan>=3 yrs)</text><text transform='translate(9.9,166.1) rotate(-90)' text-anchor='middle' font-size='10.9'>Population size</text><text x='46.2' y='693.6' text-anchor='end' font-size='10.9'>0</text><text x='46.2' y='640.6' text-anchor='end' font-size='10.9'>5000</text><text x='46.2' y='587.6' text-anchor='end' font-size='10.9'> 0000</text><text x='46.2' y='534.6' text-anchor='end' font-size='10.9'> 5000</text><text x='46.2' y='481.7' text-anchor='end' font-size='10.9'>20000</text><text x='46.2' y='428.7' text-anchor='end' font-size='10.9'>25000</text><text x='46.2' y='375.7' text-anchor='end' font-size='10.9'>30000</text><text x='39.8' y='704.6' font-size='10.9'> 0<tspan font-size='7.6' dy='-5.6'>3</tspan></text><text x='227.1' y='704.6' font-size='10.9'> 0<tspan font-size='7.6' dy='-5.6'>4</tspan></text><text x='414.4' y='704.6' font-size='10.9'> 0<tspan font-size='7.6' dy='-5.6'>5</tspan></text><text x='247.7' y='720.5' font-size='10.9'><tspan x='247.66'>Time (</tspan><tspan font-style='italic'>μ</tspan>= e-08,<tspan x='325.48' font-style='italic'>g</tspan><tspan x='338.2'>=3</tspan><tspan x='352.3'>y</tspan><tspan x='355.4'>r</tspan><tspan x='360.9'>s</tspan><tspan x='367.8'>)</tspan></text><text transform='translate(8.9,531.5) rotate(-90)' text-anchor='middle' font-size='10.9'>Population size</text><text x='85' y='21.2' font-size='9.1'>Belgian Malinois</text><text x='85' y='34.5' font-size='9.1'>German Shepherd</text><text x='85' y='47.7' font-size='9.1'>Tibetan Mastiff</text><text x='85' y='60.9' font-size='9.1'>Chinese Indigenous  </text><text x='85' y='74.1' font-size='9.1'>Chinese Indigenous 2</text><text x='497.7' y='21.5' font-size='9.1'>Dog reference</text><text x='497.7' y='34.7' font-size='9.1'>Wolf reference</text><text x='83.8' y='387.4' font-size='9.1'>Gray wolf  </text><text x='83.8' y='400.7' font-size='9.1'>Gray wolf 2</text><text x='83.8' y='414.0' font-size='9.1'>Gray wolf 3</text><text x='83.8' y='427.3' font-size='9.1'>Gray wolf 4</text><text x='496.0' y='387.6' font-size='9.28'>Dog reference</text><text x='496.0' y='400.8' font-size='9.28'>Wolf reference</text></g></svg></body></html>
